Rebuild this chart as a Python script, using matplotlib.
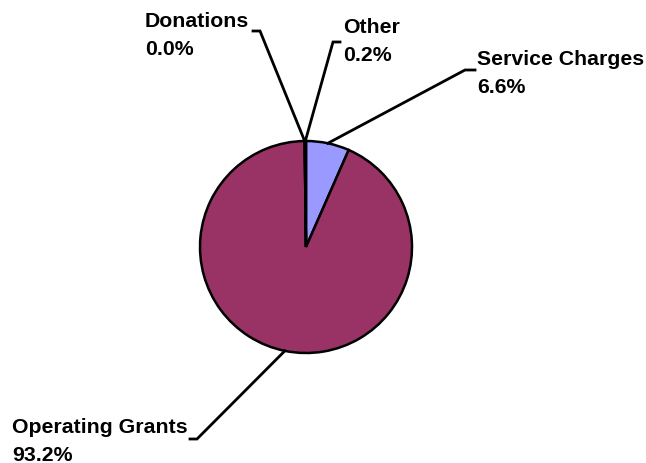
import matplotlib
matplotlib.use("Agg")
import matplotlib.pyplot as plt
import numpy as np

categories = ["Service Charges", "Operating Grants", "Donations", "Other"]
values = [6.6, 93.2, 0.0, 0.2]
colors = ["#9999FF", "#993366", "#FFFFCC", "#CCFFFF"]

W, H = 646, 464
fig = plt.figure(figsize=(W / 100, H / 100), dpi=100)
ax = fig.add_axes([0, 0, 1, 1])

cx, cy, r = 306, H - 248, 106
wedges, _ = ax.pie(values, colors=colors, startangle=90, counterclock=False,
                   center=(cx, cy), radius=r, frame=True,
                   wedgeprops=dict(edgecolor="black", linewidth=1.8))
ax.set_xlim(0, W)
ax.set_ylim(0, H)
ax.set_aspect("equal")
ax.axis("off")

# label layout: (text left x, cap-top y, elbow x, elbow y, end x) in image px
layout = {
    "Service Charges": (477, 50, 465, 71, 475),
    "Operating Grants": (12, 418, 197, 440, 190),
    "Donations": (145, 12, 260, 32, 253),
    "Other": (343, 18, 333, 43, 340),
}

font = dict(family=["Liberation Sans", "DejaVu Sans"], fontweight="bold", fontsize=15.3)
pitch = 28
for w, cat, v in zip(wedges, categories, values):
    tx, ty, ex, ey, endx = layout[cat]
    mid = np.deg2rad((w.theta1 + w.theta2) / 2)
    sx = cx + r * np.cos(mid)
    sy = cy + r * np.sin(mid)
    ax.plot([sx, ex, endx], [sy, H - ey, H - ey], color="black", lw=2.0,
            solid_joinstyle="miter", zorder=5)
    # baseline = cap top + cap height (~15px)
    ax.text(tx, H - (ty + 15), cat, ha="left", va="baseline", color="black", **font)
    ax.text(tx, H - (ty + 15 + pitch), f"{v:.1f}%", ha="left", va="baseline",
            color="black", **font)

fig.savefig("out.png", dpi=100, facecolor="white")
